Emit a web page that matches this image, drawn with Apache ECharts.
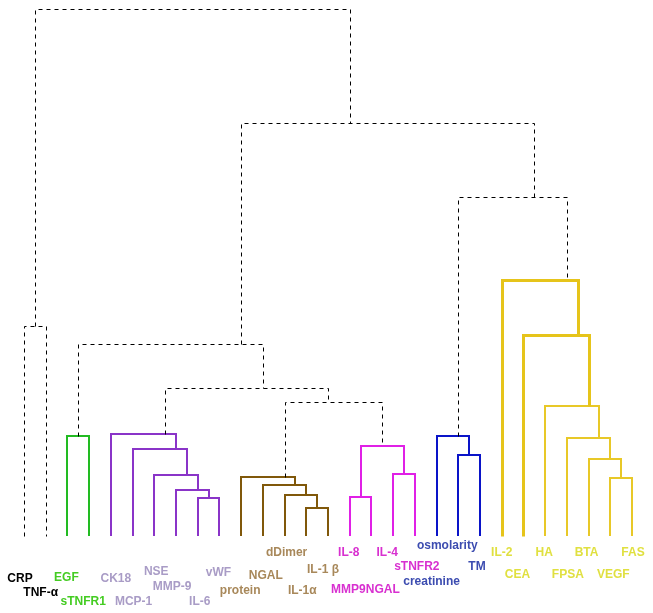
<!DOCTYPE html>
<html><head><meta charset="utf-8">
<script src="https://cdn.jsdelivr.net/npm/echarts@6/dist/echarts.min.js"></script>
<style>html,body{margin:0;padding:0;background:#fff}#c{width:653px;height:613px}</style>
</head><body><div id="c"></div>
<script>
// Leaves in dendrogram order
const leafNames = ['CRP','TNF-α','EGF','sTNFR1','CK18','MCP-1','NSE','MMP-9','IL-6','vWF',
  'protein','NGAL','dDimer','IL-1α','IL-1 β','IL-8','MMP9NGAL','IL-4','sTNFR2',
  'creatinine','osmolarity','TM','IL-2','CEA','HA','FPSA','BTA','VEGF','FAS'];
// cluster of each leaf (0 black,1 green,2 purple,3 brown,4 magenta,5 blue,6 yellow)
const leafCluster = [0,0,1,1,2,2,2,2,2,2,3,3,3,3,3,4,4,4,4,5,5,5,6,6,6,6,6,6,6];
// merges: [childA, childB, height]; leaves are 0..28, merge k is node 29+k
const mergeA = [27,26,25,24,23,22,20,19,17,15,38,13,12,11,10, 8, 7, 6, 5, 4, 2,43,48,49,36,52, 0,55];
const mergeB = [28,29,30,31,32,33,21,35,18,16,37,14,40,41,42, 9,44,45,46,47, 3,39,50,51,34,53, 1,54];
const mergeH = [11.0,14.6,18.6,24.7,38.1,48.6,15.4,19.0,11.8,7.4,17.1,5.3,7.8,9.7,11.2,
  7.2,8.7,11.6,16.5,19.4,19.0,25.4,28.1,36.4,64.3,78.4,39.8,100];
// cluster of each merge link (7 = yellow main branches, 0 = unclustered)
const mergeCluster = [6,6,6,6,7,7,5,5,4,4,4,3,3,3,3,2,2,2,2,2,1,0,0,0,0,0,0,0];

// ---- layout / style (not data) ----
const lineColor = ['#000000','#22bb22','#8a34c8','#80580a','#e020e6','#0a14c8','#e8c828','#e6c41a'];
const lineWidth = [1,2,2,2,2,2,2,3];
const labelColor = ['#000000','#44cc22','#a99cc6','#a8885a','#d830d0','#3c4cb0','#e0e040'];
const labelDx = [-4,-5,-1,-6,5,1,2,-4,2,-1,-1,3,2,-4,-5,-1,-6,-6,2,-5,-11,-3,0,-6,-1,1,-2,3,1];
const labelDy = [43,57,42,66,43,66,36,51,66,37,55,40,17,55,34,17,54,17,31,46,10,31,17,39,17,39,17,39,17];

// compute node positions (leaf index center of range) and heights
const nLeaf = leafNames.length;
const nodeX = [], nodeH = [], nodeMin = [], nodeMax = [];
for (let i = 0; i < nLeaf; i++) { nodeMin[i] = i; nodeMax[i] = i; nodeX[i] = i; nodeH[i] = 0; }
const linkData = [];
for (let k = 0; k < mergeA.length; k++) {
  const a = mergeA[k], b = mergeB[k], id = nLeaf + k;
  nodeMin[id] = Math.min(nodeMin[a], nodeMin[b]);
  nodeMax[id] = Math.max(nodeMax[a], nodeMax[b]);
  nodeX[id] = (nodeMin[id] + nodeMax[id]) / 2;
  nodeH[id] = mergeH[k];
  linkData.push([nodeX[a], nodeH[a], nodeX[b], nodeH[b], mergeH[k], mergeCluster[k]]);
}
const labelData = leafNames.map((n, i) => [i, 0, leafCluster[i]]);

function snap(p, w) {
  const off = (w % 2 === 1) ? 0.5 : 0;
  return [Math.round(p[0]) + off, Math.round(p[1]) + off];
}

const chart = echarts.init(document.getElementById('c'), null, {renderer: 'canvas'});
chart.setOption({
  animation: false,
  backgroundColor: '#ffffff',
  grid: {left: 24, right: 21, top: 9, bottom: 77},
  xAxis: {type: 'value', min: 0, max: nLeaf - 1, show: false},
  yAxis: {type: 'value', min: 0, max: 100, show: false},
  series: [
    {
      type: 'custom', clip: false, silent: true,
      data: linkData,
      renderItem: function (params, api) {
        const c = api.value(5);
        const w = lineWidth[c];
        const p1 = snap(api.coord([api.value(0), api.value(1)]), w);
        const p2 = snap(api.coord([api.value(0), api.value(4)]), w);
        const p3 = snap(api.coord([api.value(2), api.value(4)]), w);
        const p4 = snap(api.coord([api.value(2), api.value(3)]), w);
        const dashed = c === 0;
        return {
          type: 'polyline',
          shape: {points: [p1, p2, p3, p4]},
          style: {
            stroke: lineColor[c], lineWidth: w, fill: null,
            lineDash: dashed ? [4, 4] : null
          }
        };
      }
    },
    {
      type: 'custom', clip: false, silent: true,
      data: labelData,
      renderItem: function (params, api) {
        const i = params.dataIndex;
        const p = api.coord([api.value(0), api.value(1)]);
        return {
          type: 'text',
          x: p[0] + labelDx[i], y: p[1] + labelDy[i],
          style: {
            text: leafNames[i], fill: labelColor[api.value(2)],
            font: 'bold 12px "Liberation Sans", Arial, sans-serif',
            align: 'center', verticalAlign: 'middle'
          }
        };
      }
    }
  ]
});
</script></body></html>
